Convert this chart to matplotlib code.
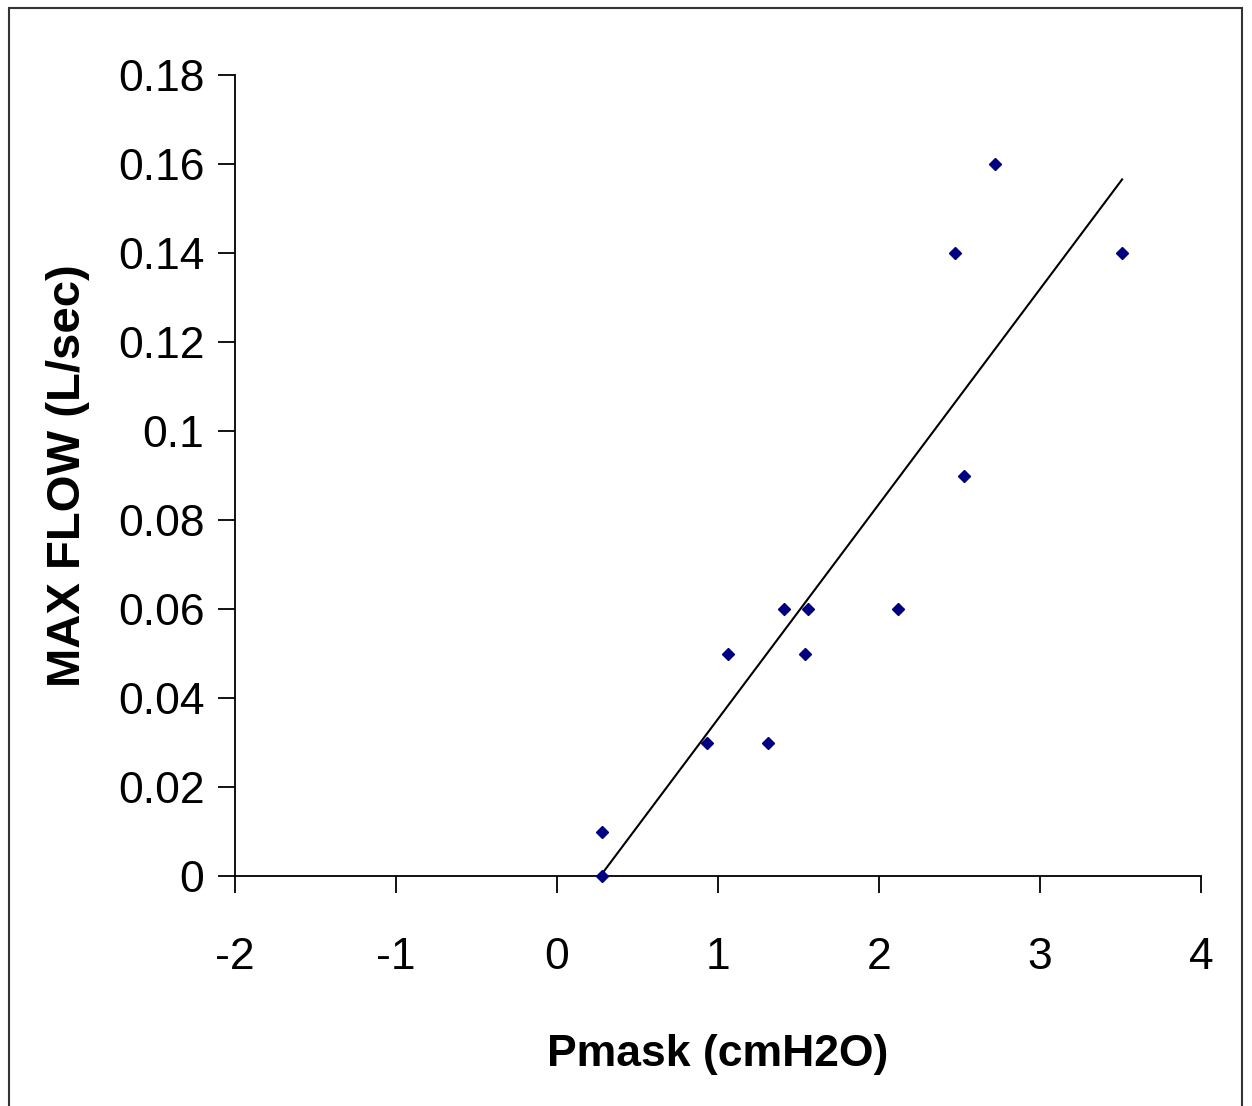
import numpy as np
import matplotlib.pyplot as plt
from matplotlib.patches import Rectangle

# Pmask (cmH2O) vs max flow (L/sec)
pmask = np.array([0.28, 0.28, 0.93, 1.06, 1.31, 1.41, 1.56, 1.54, 2.12, 2.47, 2.53, 2.72, 3.51])
max_flow = np.array([0.01, 0.00, 0.03, 0.05, 0.03, 0.06, 0.06, 0.05, 0.06, 0.14, 0.09, 0.16, 0.14])

x_ticks = [-2, -1, 0, 1, 2, 3, 4]
y_ticks = [0, 0.02, 0.04, 0.06, 0.08, 0.1, 0.12, 0.14, 0.16, 0.18]
y_labels = ['0', '0.02', '0.04', '0.06', '0.08', '0.1', '0.12', '0.14', '0.16', '0.18']

plt.rcParams['font.family'] = ['Liberation Sans', 'DejaVu Sans']

fig = plt.figure(figsize=(12.52, 11.06), dpi=100)
ax = fig.add_axes([235 / 1252, 1 - 876 / 1106, (1201 - 235) / 1252, (876 - 75) / 1106])

# linear trendline over the data range
slope, intercept = np.polyfit(pmask, max_flow, 1)
xs = np.array([pmask.min(), pmask.max()])
ax.plot(xs, slope * xs + intercept, color='black', lw=1.5, zorder=2)

ax.plot(pmask, max_flow, linestyle='none', marker='D', ms=6,
        color='#000080', zorder=3, clip_on=False)

ax.set_xlim(-2, 4)
ax.set_ylim(0, 0.18)
ax.set_xticks(x_ticks)
ax.set_xticklabels([str(t) for t in x_ticks])
ax.set_yticks(y_ticks)
ax.set_yticklabels(y_labels)

for side in ['top', 'right']:
    ax.spines[side].set_visible(False)
for side in ['left', 'bottom']:
    ax.spines[side].set_linewidth(1.3)

ax.tick_params(axis='both', direction='out', length=12, width=1.3, labelsize=32)
ax.tick_params(axis='y', pad=10)
ax.tick_params(axis='x', pad=32)

ax.set_xlabel('Pmask (cmH2O)', fontsize=32, fontweight='bold', labelpad=40)
ax.set_ylabel('MAX FLOW (L/sec)', fontsize=34, fontweight='bold', labelpad=20)

# outer chart border
fig.patches.append(Rectangle((9 / 1252, -0.01), (1242 - 9) / 1252, 1.01 - 8 / 1106,
                             transform=fig.transFigure, fill=False,
                             edgecolor='#333333', lw=1.5))

fig.savefig('out.png', dpi=100)
